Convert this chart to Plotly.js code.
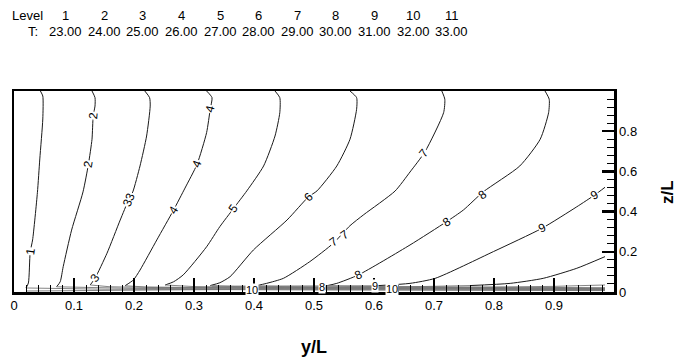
<!DOCTYPE html>
<html><head><meta charset="utf-8">
<script src="https://cdn.plot.ly/plotly-3.0.1.min.js"></script>
<style>html,body{margin:0;padding:0;background:#fff;} #chart{width:677px;height:362px;}</style>
</head><body><div id="chart"></div>
<script>
// Legend table
const levels = [1,2,3,4,5,6,7,8,9,10,11];
const temps = [23,24,25,26,27,28,29,30,31,32,33];

// Axis ticks
const xTickVals = [0,0.1,0.2,0.3,0.4,0.5,0.6,0.7,0.8,0.9];
const xTickText = ['0','0.1','0.2','0.3','0.4','0.5','0.6','0.7','0.8','0.9'];
const zTickVals = [0,0.2,0.4,0.6,0.8];
const zTickText = ['0','0.2','0.4','0.6','0.8'];

// Iso-lines (y/L, z/L)
const y1 = [0.044,0.048,0.048,0.043,0.039,0.031,0.027,0.024,0.020,0.15,0.5,0.985];
const z1 = [1.0,0.975,0.861,0.662,0.494,0.259,0.199,0.045,0.020,0.014,0.010,0.007];
const y2 = [0.130,0.135,0.135,0.132,0.130,0.124,0.115,0.096,0.082,0.077,0.071,0.2,0.5,0.985];
const z2 = [1.0,0.967,0.925,0.876,0.760,0.635,0.498,0.308,0.126,0.051,0.026,0.018,0.013,0.009];
const y3 = [0.218,0.226,0.227,0.221,0.210,0.198,0.191,0.177,0.155,0.135,0.127,0.16,0.3,0.6,0.985];
const z3 = [1.0,0.967,0.925,0.776,0.627,0.498,0.458,0.358,0.193,0.068,0.035,0.026,0.019,0.014,0.011];
const y4 = [0.321,0.330,0.327,0.321,0.305,0.285,0.266,0.238,0.210,0.199,0.185,0.22,0.35,0.65,0.985];
const z4 = [1.0,0.967,0.909,0.793,0.635,0.517,0.408,0.259,0.109,0.060,0.031,0.025,0.021,0.016,0.013];
const y5 = [0.435,0.443,0.443,0.435,0.416,0.388,0.366,0.343,0.321,0.282,0.266,0.252,0.3,0.45,0.7,0.985];
const z5 = [1.0,0.967,0.892,0.776,0.627,0.503,0.416,0.325,0.225,0.085,0.051,0.035,0.027,0.022,0.018,0.015];
const y6 = [0.560,0.571,0.571,0.560,0.538,0.505,0.491,0.455,0.399,0.360,0.343,0.327,0.37,0.5,0.75,0.985];
const z6 = [1.0,0.967,0.909,0.760,0.627,0.503,0.474,0.358,0.209,0.076,0.046,0.032,0.027,0.023,0.020,0.017];
const y7 = [0.713,0.718,0.716,0.685,0.660,0.635,0.583,0.560,0.532,0.493,0.449,0.421,0.402,0.45,0.6,0.8,0.985];
const z7 = [1.0,0.959,0.892,0.698,0.597,0.502,0.385,0.330,0.242,0.151,0.068,0.043,0.030,0.027,0.024,0.022,0.019];
const y8 = [0.885,0.892,0.891,0.877,0.843,0.782,0.749,0.721,0.660,0.574,0.538,0.521,0.56,0.7,0.985];
const z8 = [1.0,0.959,0.892,0.760,0.627,0.498,0.408,0.350,0.234,0.085,0.043,0.031,0.028,0.026,0.021];
const y9 = [0.985,0.968,0.938,0.880,0.799,0.702,0.660,0.602,0.45,0.33];
const z9 = [0.521,0.483,0.424,0.317,0.201,0.068,0.043,0.031,0.030,0.029];
const y10 = [0.985,0.938,0.882,0.827,0.760,0.643,0.45,0.22];
const z10 = [0.176,0.118,0.068,0.043,0.032,0.025,0.022,0.021];
const y11 = [0.985,0.9,0.7,0.4,0.15,0.02];
const z11 = [0.035,0.028,0.020,0.014,0.008,0.005];

// Line labels
const labText = ['1','2','2','33','3','4','4','4','5','6','7','7','7','8','8','8','9','9'];
const labY = [0.027,0.132,0.124,0.191,0.135,0.327,0.305,0.266,0.366,0.491,0.532,0.550,0.683,0.780,0.721,0.574,0.968,0.880];
const labZ = [0.201,0.876,0.635,0.458,0.068,0.909,0.635,0.408,0.416,0.474,0.250,0.285,0.693,0.483,0.350,0.085,0.483,0.317];
const labAngle = [-82,-85,-80,-68,-55,-75,-68,-60,-55,-45,-35,-35,-52,-38,-33,-25,-30,-25];
const botText = ['10','8','9','10'];
const botY = [0.397,0.513,0.602,0.630];
const botZ = [0.010,0.026,0.031,0.017];

const FONT = 'Liberation Sans, Arial, Helvetica, sans-serif';
const lineSets = [[y1,z1],[y2,z2],[y3,z3],[y4,z4],[y5,z5],[y6,z6],[y7,z7],[y8,z8],[y9,z9],[y10,z10],[y11,z11]];
const traces = [];
lineSets.forEach((p,i) => {
  const ys = p[0], zs = p[1];
  // split: near-wall part drawn lighter (dense boundary layer band)
  let k = zs.findIndex(v => v < 0.036);
  if (k < 0) k = zs.length;
  if (k > 0) traces.push({type:'scatter', mode:'lines', x:ys.slice(0,k+1), y:zs.slice(0,k+1),
    line:{color:'#1a1a1a', width:1, shape:'spline', smoothing:0.6}, hoverinfo:'skip'});
  if (k < zs.length - 1) traces.push({type:'scatter', mode:'lines', x:ys.slice(k), y:zs.slice(k),
    line:{color:'#777777', width:0.9}, hoverinfo:'skip'});
});

// pixel -> paper helpers (layout only)
const PX = px => (px-14)/600, PY = py => (292-py)/201;
const ann = [];
labText.forEach((t,i) => ann.push({x:labY[i], y:labZ[i], xref:'x', yref:'y', text:t, showarrow:false,
  textangle:labAngle[i], bgcolor:'#ffffff', borderpad:0, font:{family:FONT,size:12,color:'#000'}}));
botText.forEach((t,i) => ann.push({x:botY[i], y:botZ[i], xref:'x', yref:'y', text:t, showarrow:false,
  bgcolor:'#ffffff', borderpad:0, font:{family:FONT,size:11,color:'#000'}}));
const A = (x,y,t,xa,size,extra) => Object.assign({x:PX(x), y:PY(y), xref:'paper', yref:'paper', xanchor:xa, yanchor:'middle',
  text:t, showarrow:false, font:{family:FONT,size:size,color:'#000'}}, extra||{});
ann.push(A(10,15.5,'Level','left',13));
ann.push(A(40,32,'T:','right',13));
levels.forEach((lv,i) => {
  const cx = 65.7 + i*38.6;
  ann.push(A(cx,15.5,String(lv),'center',13));
  ann.push(A(cx,32,temps[i].toFixed(2),'center',13));
});
ann.push(A(314,347,'<b>y/L</b>','center',18));
ann.push(A(667,192,'<b>z/L</b>','center',17,{textangle:-90}));

const axCommon = {range:[0,1], showline:true, linewidth:2.5, linecolor:'#000', mirror:true,
  ticks:'inside', tickwidth:2.5, tickcolor:'#000', tickmode:'array',
  tickfont:{family:FONT,size:13,color:'#000'}, showgrid:false, zeroline:false, fixedrange:true};
const layout = {
  width:677, height:362, margin:{l:14, r:63, t:91, b:70, pad:0},
  paper_bgcolor:'#fff', plot_bgcolor:'#fff', showlegend:false,
  xaxis:Object.assign({}, axCommon, {ticklen:14, tickvals:xTickVals, ticktext:xTickText,
    minor:{tickmode:'linear', tick0:0, dtick:0.02, ticks:'inside', ticklen:7, tickwidth:1, tickcolor:'#000', showgrid:false}}),
  yaxis:Object.assign({}, axCommon, {side:'right', ticklen:12, tickvals:zTickVals, ticktext:zTickText,
    minor:{tickmode:'linear', tick0:0, dtick:0.04, ticks:'inside', ticklen:7, tickwidth:1, tickcolor:'#000', showgrid:false}}),
  annotations:ann
};
Plotly.newPlot('chart', traces, layout, {staticPlot:true, displayModeBar:false});
</script></body></html>
